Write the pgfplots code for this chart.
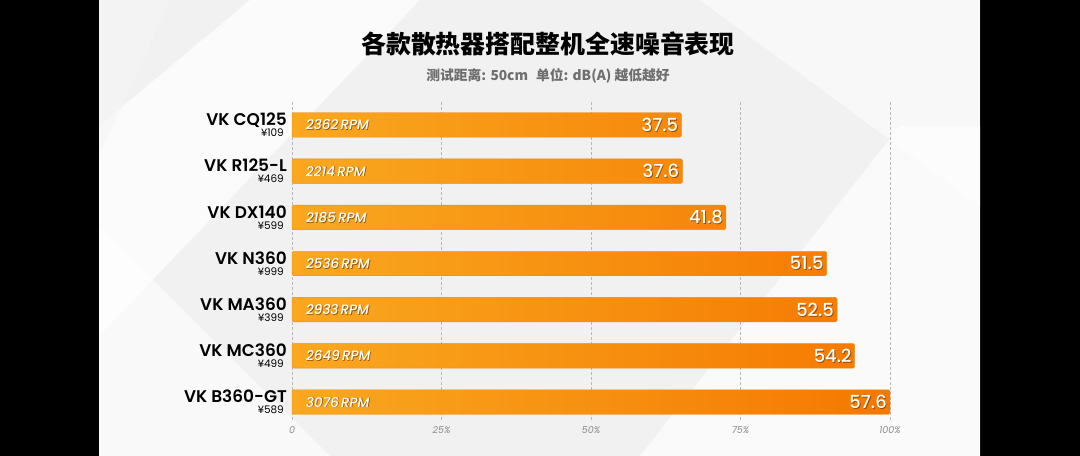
\documentclass[border=0pt]{standalone}
\usepackage{pgfplots}
\pgfplotsset{compat=1.18}
\usepackage{pgfplotstable}
\usepackage{fontspec}
\setmainfont{Poppins}
\newfontfamily\popsb{Poppins SemiBold}
\newfontfamily\popmed{Poppins Medium}
\newfontfamily\cjk{Noto Sans CJK SC}
\definecolor{barL}{HTML}{F9A820}
\definecolor{barR}{HTML}{F57800}
\definecolor{barEdge}{HTML}{EE8A10}
\definecolor{bg}{HTML}{F1F1F1}
\definecolor{shad}{HTML}{5A2D00}
\definecolor{subgray}{HTML}{6E6E6E}
\definecolor{tickgray}{HTML}{8A8A8A}

\pgfplotstableread{
y val z rpm
0 37.5 0 2362
1 37.6 0 2214
2 41.8 0 2185
3 51.5 0 2536
4 52.5 0 2933
5 54.2 0 2649
6 57.6 0 3076
}\data

\newcommand\lab[2]{{\popsb #1}\\{\fontsize{10.5}{11}\selectfont #2\kern3bp}}
\newcommand\valfont{\popmed\fontsize{18}{18}\selectfont}
\newcommand\rpmfont{\popmed\fontsize{13.5}{14}\selectfont\itshape}

\begin{document}
\begin{tikzpicture}[x=1bp,y=1bp]
\useasboundingbox (0,0) rectangle (1080,456);
\fill[black] (0,0) rectangle (1080,456);
\fill[bg] (99,0) rectangle (980,456);
\begin{scope}
\clip (99,0) rectangle (980,456);
\fill[white, opacity=0.75] (99,120) -- (99,330) -- (250,456) -- (420,456) -- cycle;
\fill[white, opacity=0.6] (99,0) -- (330,0) -- (99,230) -- cycle;
\fill[white, opacity=0.7] (640,0) -- (980,0) -- (980,330) -- (900,330) -- cycle;
\fill[white, opacity=0.5] (700,456) -- (980,456) -- (980,250) -- cycle;
\fill[black!4, opacity=0.6] (99,300) -- (170,456) -- (99,456) -- cycle;
\end{scope}

\node[font=\cjk\bfseries\fontsize{25}{25}\selectfont, text=black] at (548,412.5) {各款散热器搭配整机全速噪音表现};
\node[font=\cjk\bfseries\fontsize{13.8}{14}\selectfont, text=subgray] at (548,380) {测试距离: 50cm\hspace{8bp}单位: dB(A) 越低越好};

\begin{axis}[
  at={(292bp,354.1bp)}, anchor=north west,
  scale only axis, width=598bp, height=318.6bp,
  xmin=0, xmax=57.6, ymin=-0.5, ymax=6.4,
  y dir=reverse,
  axis line style={draw=none},
  major tick length=0pt,
  xtick={0,14.4,28.8,43.2,57.6},
  xticklabels={0,25\%,50\%,75\%,100\%},
  xmajorgrids, ymajorgrids=false,
  grid style={dash pattern=on 3bp off 2bp, color=black!28, line width=0.5bp},
  xticklabel style={font=\fontsize{9.5}{10}\selectfont\itshape, text=tickgray, yshift=-3bp},
  ytick={0,1,2,3,4,5,6},
  yticklabels={
    {\lab{VK CQ125}{¥109}},
    {\lab{VK R125-L}{¥469}},
    {\lab{VK DX140}{¥599}},
    {\lab{VK N360}{¥999}},
    {\lab{VK MA360}{¥399}},
    {\lab{VK MC360}{¥499}},
    {\lab{VK B360-GT}{¥589}}},
  yticklabel style={anchor=east, align=right, inner sep=0pt, xshift=-5bp,
    font=\fontsize{17}{11}\selectfont, text=black},
  clip=false,
]
\addplot[xbar, bar width=24.5bp, draw=barEdge, line width=0.4bp,
  left color=barL, right color=barR, rounded corners=1.5bp]
  table[x=val, y=y] {\data};
% value labels: shadow then white
\addplot[draw=none, mark=none, point meta=explicit symbolic, nodes near coords,
  nodes near coords style={anchor=east, text=shad, opacity=0.6, xshift=-2.1bp, yshift=-0.9bp, font=\valfont, inner sep=0pt}]
  table[x=val, y=y, meta=val] {\data};
\addplot[draw=none, mark=none, point meta=explicit symbolic, nodes near coords,
  nodes near coords style={anchor=east, text=white, xshift=-3bp, font=\valfont, inner sep=0pt}]
  table[x=val, y=y, meta=val] {\data};
% rpm labels
\addplot[draw=none, mark=none, point meta=explicit symbolic,
  nodes near coords={\pgfplotspointmeta\,RPM},
  nodes near coords style={anchor=west, text=shad, opacity=0.6, xshift=14.9bp, yshift=-0.9bp, font=\rpmfont, inner sep=0pt}]
  table[x=z, y=y, meta=rpm] {\data};
\addplot[draw=none, mark=none, point meta=explicit symbolic,
  nodes near coords={\pgfplotspointmeta\,RPM},
  nodes near coords style={anchor=west, text=white, xshift=14bp, font=\rpmfont, inner sep=0pt}]
  table[x=z, y=y, meta=rpm] {\data};
\end{axis}
\end{tikzpicture}
\end{document}
